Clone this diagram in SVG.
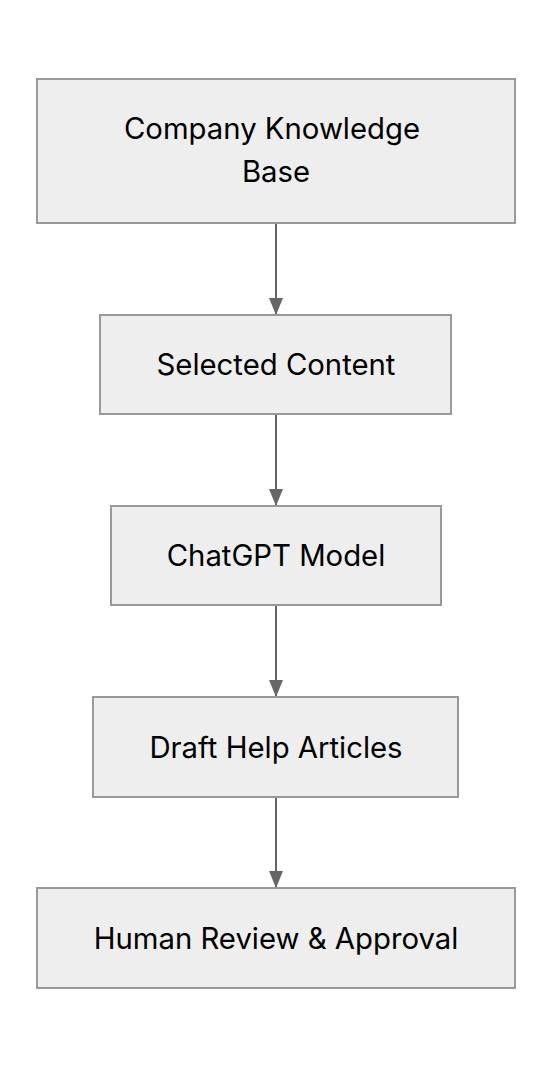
<svg xmlns="http://www.w3.org/2000/svg" width="552" height="1068" viewBox="0 0 552 1068">
<style>
.node rect{fill:#eeeeee;stroke:#999999;stroke-width:2}
.node text{font-family:Inter,"Liberation Sans",sans-serif;font-size:29.3px;fill:#000000;text-anchor:middle}
.edge{stroke:#666666;stroke-width:2;fill:none}
</style>
<defs>
<marker id="ah" viewBox="0 0 17 14" refX="17" refY="7" markerWidth="17" markerHeight="14" orient="auto" markerUnits="userSpaceOnUse">
<path d="M0,0 L17,7 L0,14 Z" fill="#666666"/>
</marker>
</defs>
<rect width="552" height="1068" fill="#ffffff"/>
<g id="connectors">
<line class="edge" x1="276" y1="223" x2="276" y2="315" marker-end="url(#ah)"/>
<line class="edge" x1="276" y1="414" x2="276" y2="506" marker-end="url(#ah)"/>
<line class="edge" x1="276" y1="605" x2="276" y2="697" marker-end="url(#ah)"/>
<line class="edge" x1="276" y1="797" x2="276" y2="888" marker-end="url(#ah)"/>
</g>
<g id="n1" class="node">
<rect x="37" y="79" width="478" height="144"/>
<text x="272" y="138.5">Company Knowledge</text>
<text x="276" y="182">Base</text>
</g>
<g id="n2" class="node">
<rect x="100" y="315" width="351" height="99"/>
<text x="276" y="375">Selected Content</text>
</g>
<g id="n3" class="node">
<rect x="111" y="506" width="330" height="99"/>
<text x="276" y="566">ChatGPT Model</text>
</g>
<g id="n4" class="node">
<rect x="93" y="697" width="365" height="100"/>
<text x="276" y="757.5">Draft Help Articles</text>
</g>
<g id="n5" class="node">
<rect x="37" y="888" width="478" height="100"/>
<text x="276" y="948.5">Human Review &amp; Approval</text>
</g>
</svg>
